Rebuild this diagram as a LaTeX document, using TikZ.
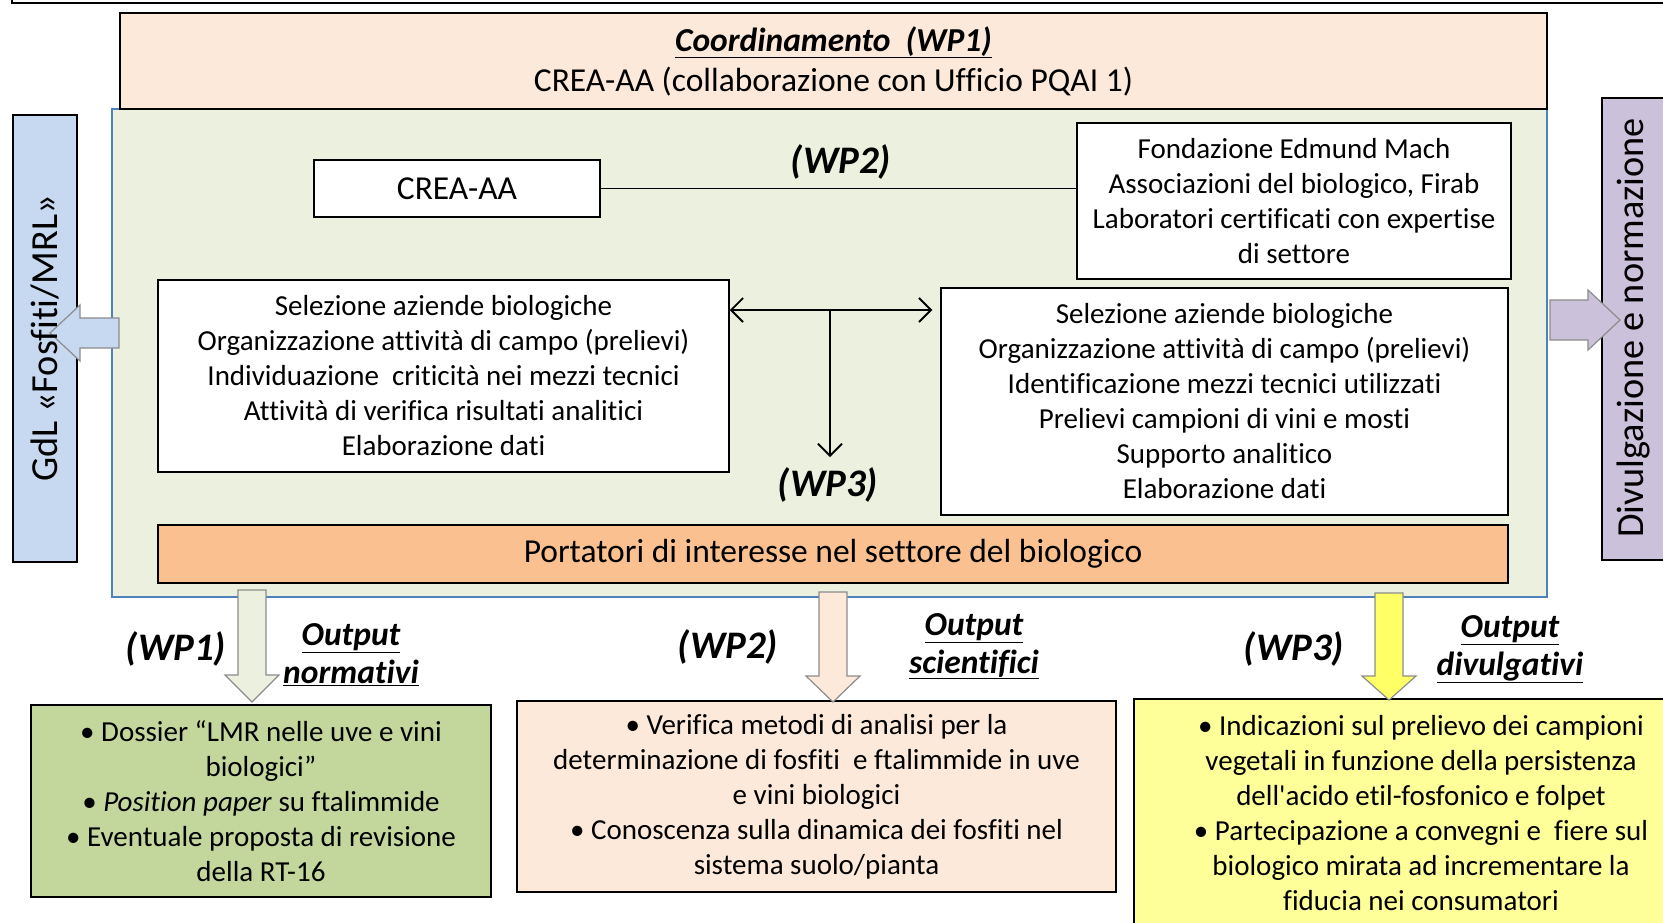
\documentclass[tikz,border=0pt]{standalone}
\usepackage{fontspec}
\setmainfont{Carlito}[Ligatures={TeX,NoCommon}]
\usepackage{tikz}
\usetikzlibrary{positioning, arrows.meta, calc}

\definecolor{panelgreen}{HTML}{EBF1DE}
\definecolor{panelblue}{HTML}{4F81BD}
\definecolor{peach}{HTML}{FDE9D9}
\definecolor{sideblue}{HTML}{C6D9F1}
\definecolor{sidepurple}{HTML}{CCC1DA}
\definecolor{barorange}{HTML}{FAC090}
\definecolor{outgreen}{HTML}{C3D69B}
\definecolor{outyellow}{HTML}{FFFF99}
\definecolor{arrowyellow}{HTML}{FFFF66}

\newcommand{\boxfont}{\fontsize{29}{35}\selectfont}
\newcommand{\bigboxfont}{\fontsize{33.5}{40}\selectfont}
\newcommand{\wpfont}{\fontsize{39}{42}\selectfont\bfseries\itshape}
\newcommand{\outfont}{\fontsize{33.5}{38}\selectfont\bfseries\itshape}
\newcommand{\sidefont}{\fontsize{38.3}{40}\selectfont}

\begin{document}
\begin{tikzpicture}
            [x=1pt, y=-1pt,
             box/.style={draw, line width=1.5pt, align=center, inner sep=0pt, font=\boxfont},
             blockarrow/.style={draw=black!45, line width=1.2pt},
             >={Straight Barb[length=12pt, width=24pt]}]
            \useasboundingbox (0,0) rectangle (1663,922);
            \draw[line width=2.5pt] (12,-5) -- (12,3) -- (1670,3);

            % central panel and coordination
            \node[draw=panelblue, line width=1.2pt, fill=panelgreen, minimum width=1435pt, minimum height=488pt] (panel) at (829.5,353) {};
            \node[box, fill=peach, font=\bigboxfont, minimum width=1427pt, minimum height=96pt] (coord) at (833.5,61)
                {{\bfseries\itshape\underline{Coordinamento\ \ (WP1)}}\\CREA-AA (collaborazione con Ufficio PQAI 1)};

            % side boxes
            \node[box, fill=sideblue, minimum width=64pt, minimum height=447pt] (gdl) at (45,338.5) {};
            \node[box, fill=sidepurple, minimum width=66pt, minimum height=462pt] (dn) at (1635,329) {};
            \draw[blockarrow, fill=sideblue] (119,318) -- (80,318) -- (80,305) -- (50,333) -- (80,361) -- (80,348) -- (119,348) -- cycle;
            \draw[blockarrow, fill=sidepurple] (1550,300) -- (1588,300) -- (1588,290) -- (1620,320) -- (1588,350) -- (1588,340) -- (1550,340) -- cycle;
            \node[rotate=90, font=\sidefont] (gdltext) at (gdl) {GdL «Fosfiti/MRL»};
            \node[rotate=90, font=\sidefont] (dntext) at (1633,328) {Divulgazione e normazione};

            % partners
            \node[box, fill=white, font=\bigboxfont, minimum width=286pt, minimum height=57pt] (crea) at (457,188.5) {CREA-AA};
            \node[box, fill=white, minimum width=434pt, minimum height=156pt] (fem) at (1294,201)
                {Fondazione Edmund Mach\\Associazioni del biologico, Firab\\Laboratori certificati con expertise\\di settore};
            \node[box, fill=white, minimum width=571pt, minimum height=192pt] (sel1) at (443.5,376)
                {Selezione aziende biologiche\\Organizzazione attività di campo (prelievi)\\Individuazione\ \ criticità nei mezzi tecnici\\Attività di verifica risultati analitici\\Elaborazione dati};
            \node[box, fill=white, minimum width=567pt, minimum height=227pt] (sel2) at (1224.5,401.5)
                {Selezione aziende biologiche\\Organizzazione attività di campo (prelievi)\\Identificazione mezzi tecnici utilizzati\\Prelievi campioni di vini e mosti\\Supporto analitico\\Elaborazione dati};
            \node[box, fill=barorange, font=\bigboxfont, minimum width=1350pt, minimum height=58pt] (bar) at (833,554) {Portatori di interesse nel settore del biologico};

            \node[font=\wpfont] (wp2) at (841,162) {(WP2)};
            \node[font=\wpfont] (wp3) at (828,485) {(WP3)};

            \draw[line width=1.5pt] (crea.east) -- (crea.east -| fem.west);
            \coordinate (fork) at (830,310);
            \draw[line width=1.8pt, <->, shorten >=8pt] (fork -| sel1.east) -- (fork -| sel2.west);
            \draw[line width=1.8pt, ->] (fork) -- (830,457);

            % outputs
            \node[box, fill=outgreen, minimum width=460pt, minimum height=192pt] (out1) at (261,801)
                {• Dossier “LMR nelle uve e vini\\biologici”\\• \textit{Position paper} su ftalimmide\\• Eventuale proposta di revisione\\della RT-16};
            \node[box, fill=peach, minimum width=599pt, minimum height=191pt] (out2) at (816.5,796.5)
                {• Verifica metodi di analisi per la\\determinazione di fosfiti\ \ e ftalimmide in uve\\e vini biologici\\• Conoscenza sulla dinamica dei fosfiti nel\\sistema suolo/pianta};
            \node[box, fill=outyellow, minimum width=574pt, minimum height=228pt] (out3) at (1421,813)
                {• Indicazioni sul prelievo dei campioni\\vegetali in funzione della persistenza\\dell\textquotesingle acido etil-fosfonico e folpet\\• Partecipazione a convegni e\ \ fiere sul\\biologico mirata ad incrementare la\\fiducia nei consumatori};

            \draw[blockarrow, fill=panelgreen] (238,590) -- (266,590) -- (266,675) -- (279,675) -- (252,702) -- (225,675) -- (238,675) -- cycle;
            \draw[blockarrow, fill=peach] (819,592) -- (847,592) -- (847,676) -- (860,676) -- (833,702) -- (806,676) -- (819,676) -- cycle;
            \draw[blockarrow, fill=arrowyellow] (1375,593) -- (1403,593) -- (1403,676) -- (1416,676) -- (1389,700) -- (1362,676) -- (1375,676) -- cycle;

            \node[font=\wpfont] (wp1lab) at (176,649) {(WP1)};
            \node[font=\wpfont] (wp2lab) at (728,647) {(WP2)};
            \node[font=\wpfont] (wp3lab) at (1294,649) {(WP3)};
            \node[font=\outfont, align=center] (outnorm) at (351,655) {\underline{Output}\\\underline{normativi}};
            \node[font=\outfont, align=center] (outsci) at (974,646) {\underline{Output}\\\underline{scientifici}};
            \node[font=\outfont, align=center] (outdiv) at (1510,649) {\underline{Output}\\\underline{divulgativi}};
        \end{tikzpicture}
\end{document}
